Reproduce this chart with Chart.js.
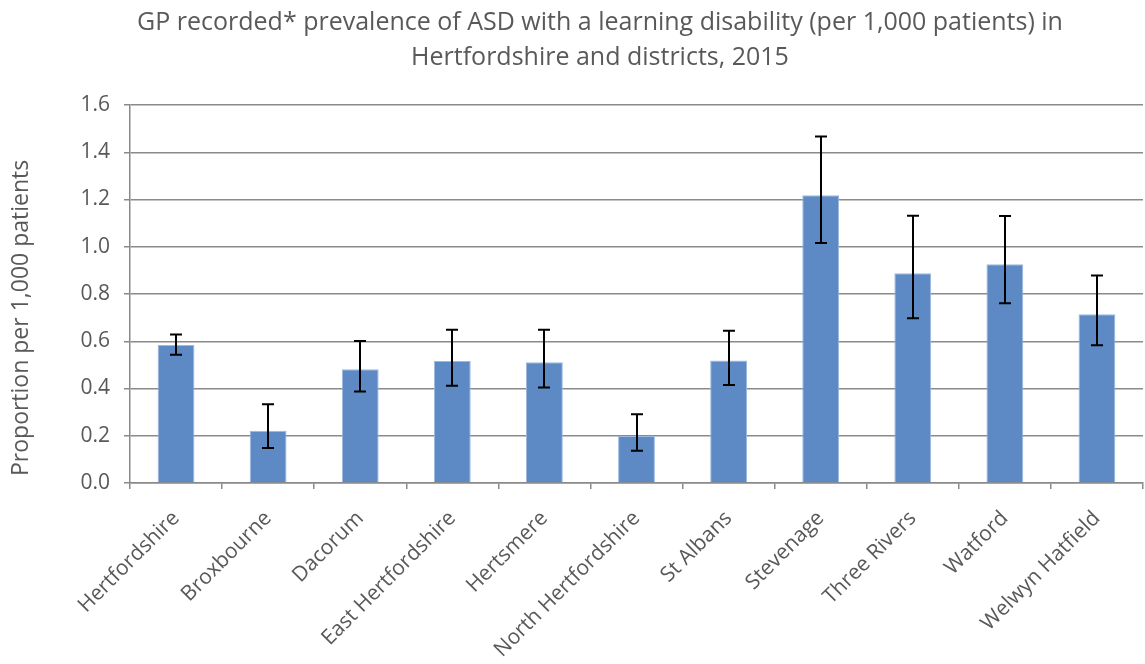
<!DOCTYPE html>
<html>
<head>
<meta charset="utf-8">
<script src="https://cdn.jsdelivr.net/npm/chart.js@4/dist/chart.umd.min.js"></script>
<style>
  html, body { margin: 0; padding: 0; background: #fff; }
  #wrap { position: relative; width: 1145px; height: 664px; }
  #title {
    position: absolute; left: 0; top: 3px; width: 1145px; box-sizing: border-box;
    padding-left: 55px; text-align: center;
    font-family: "Open Sans", sans-serif; font-size: 25px; line-height: 35px; color: #595959;
  }
  canvas { position: absolute; left: 0; top: 0; }
</style>
</head>
<body>
<div id="wrap">
  <canvas id="chart" width="1145" height="664"></canvas>
  <div id="title">GP recorded* prevalence of ASD with a learning disability (per 1,000 patients) in<br>Hertfordshire and districts, 2015</div>
</div>
<script>
var districts = ['Hertfordshire', 'Broxbourne', 'Dacorum', 'East Hertfordshire', 'Hertsmere',
  'North Hertfordshire', 'St Albans', 'Stevenage', 'Three Rivers', 'Watford', 'Welwyn Hatfield'];
var prevalence = [0.584, 0.221, 0.481, 0.516, 0.511, 0.199, 0.518, 1.218, 0.888, 0.926, 0.714];
var lowerCI = [0.543, 0.148, 0.387, 0.412, 0.404, 0.137, 0.415, 1.016, 0.697, 0.761, 0.583];
var upperCI = [0.629, 0.333, 0.601, 0.649, 0.649, 0.291, 0.644, 1.467, 1.131, 1.130, 0.878];
var yTitle = 'Proportion per 1,000 patients';

var textColor = '#595959';
var gridColor = '#8a8a8a';
var font = "'Open Sans', sans-serif";

var errorBars = {
  id: 'errorBars',
  afterDatasetsDraw: function(chart) {
    var c = chart.ctx;
    var yScale = chart.scales.y;
    var meta = chart.getDatasetMeta(0);
    c.save();
    c.strokeStyle = '#000';
    c.lineWidth = 2;
    meta.data.forEach(function(bar, i) {
      var x = Math.round(bar.x);
      var top = yScale.getPixelForValue(upperCI[i]);
      var bot = yScale.getPixelForValue(lowerCI[i]);
      c.beginPath();
      c.moveTo(x, top); c.lineTo(x, bot);
      c.moveTo(x - 6, top); c.lineTo(x + 6, top);
      c.moveTo(x - 6, bot); c.lineTo(x + 6, bot);
      c.stroke();
    });
    c.restore();
  }
};

new Chart(document.getElementById('chart'), {
  type: 'bar',
  data: {
    labels: districts,
    datasets: [{
      data: prevalence,
      backgroundColor: '#5d8ac4',
      borderColor: '#9db9de',
      borderWidth: 1,
      categoryPercentage: 1.0,
      barPercentage: 0.4
    }]
  },
  plugins: [errorBars],
  options: {
    responsive: false,
    animation: false,
    layout: { padding: { top: 105, right: 2, left: 0, bottom: 0 } },
    scales: {
      y: {
        min: 0,
        max: 1.6,
        ticks: {
          stepSize: 0.2,
          color: textColor,
          font: { family: font, size: 21 },
          padding: 14,
          callback: function(v) { return v.toFixed(1); }
        },
        grid: { color: gridColor, lineWidth: 1.5, tickLength: 6, drawTicks: true },
        border: { color: gridColor, width: 1.5 },
        title: {
          display: true,
          // trailing spaces push the centred text down to where the reference has it
          text: yTitle + '\u00a0'.repeat(8),
          color: textColor,
          font: { family: font, size: 23 },
          padding: { top: 8, bottom: 14 }
        },
        afterFit: function(scale) { scale.width = 130; }
      },
      x: {
        offset: true,
        ticks: {
          color: textColor,
          font: { family: font, size: 21 },
          minRotation: 45,
          maxRotation: 45,
          autoSkip: false,
          padding: 17
        },
        grid: { offset: true, drawOnChartArea: false, color: gridColor, lineWidth: 1.5, tickLength: 6 },
        border: { color: gridColor, width: 1.5 },
        afterFit: function(scale) { scale.height = 181; }
      }
    },
    plugins: {
      legend: { display: false },
      title: { display: false },
      tooltip: { enabled: false }
    }
  }
});
</script>
</body>
</html>
